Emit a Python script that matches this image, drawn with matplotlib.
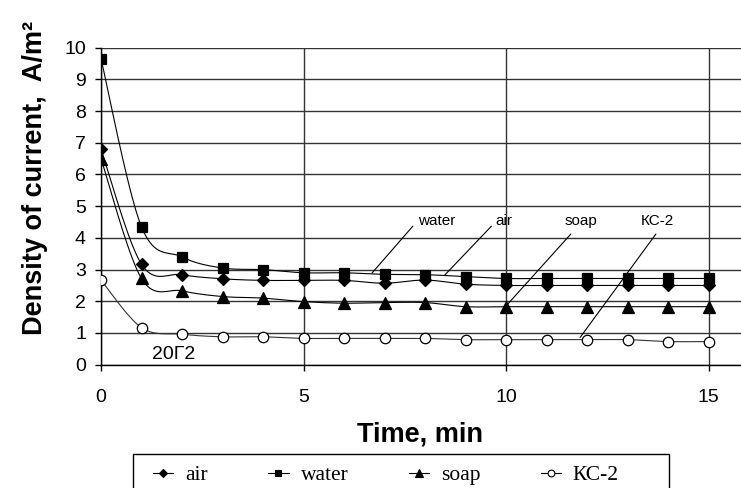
import numpy as np
import matplotlib
matplotlib.use("Agg")
import matplotlib.pyplot as plt
from matplotlib.lines import Line2D
from matplotlib.patches import Rectangle

# ---- data ----
time_min = [0, 1, 2, 3, 4, 5, 6, 7, 8, 9, 10, 11, 12, 13, 14, 15]
air = [6.8, 3.17, 2.84, 2.71, 2.66, 2.66, 2.66, 2.57, 2.67, 2.54, 2.5, 2.5, 2.5, 2.5, 2.5, 2.5]
water = [9.65, 4.35, 3.4, 3.05, 3.0, 2.9, 2.9, 2.85, 2.84, 2.78, 2.72, 2.72, 2.72, 2.72, 2.72, 2.72]
soap = [6.5, 2.72, 2.33, 2.15, 2.1, 1.99, 1.94, 1.96, 1.96, 1.83, 1.83, 1.83, 1.83, 1.83, 1.83, 1.83]
ks2 = [2.67, 1.17, 0.96, 0.88, 0.88, 0.83, 0.83, 0.83, 0.83, 0.79, 0.79, 0.79, 0.79, 0.79, 0.73, 0.73]
series_names = ["air", "water", "soap", "КС-2"]
x_ticks = [0, 5, 10, 15]
y_ticks = list(range(0, 11))

SANS = ["Liberation Sans", "DejaVu Sans"]
SERIF = ["Liberation Serif", "DejaVu Serif"]


def smooth(xs, ys, n=20):
    """Excel-like smoothed line (Catmull-Rom Bezier) through the points."""
    P = np.column_stack([xs, ys]).astype(float)
    m = len(P)
    out = [P[0]]
    t = np.linspace(0, 1, n)[1:, None]
    for i in range(m - 1):
        p0 = P[i - 1] if i > 0 else P[i]
        p1, p2 = P[i], P[i + 1]
        p3 = P[i + 2] if i + 2 < m else P[i + 1]
        c1 = p1 + (p2 - p0) / 6.0
        c2 = p2 - (p3 - p1) / 6.0
        seg = ((1 - t) ** 3) * p1 + 3 * ((1 - t) ** 2) * t * c1 + 3 * (1 - t) * t ** 2 * c2 + t ** 3 * p2
        out.extend(seg)
    out = np.array(out)
    return out[:, 0], out[:, 1]


W, H = 741, 488
fig = plt.figure(figsize=(W / 100, H / 100), dpi=100)
ax = fig.add_axes([101 / W, 1 - 364.7 / H, (W - 101) / W, 317 / H])
ax.set_xlim(0, (W - 101) / 40.5)
ax.set_ylim(0, 10)

styles = [
    (air, "D", 6.3, "black", "black"),
    (water, "s", 7.5, "black", "black"),
    (soap, "^", 8.0, "black", "black"),
    (ks2, "o", 7.5, "white", "#333333"),
]
handles = []
for (vals, mk, ms, fc, lc), name in zip(styles, series_names):
    sx, sy = smooth(time_min, vals)
    ax.plot(sx, sy, color=lc, lw=0.8, zorder=3)
    ax.plot(time_min, vals, linestyle="none", marker=mk, ms=ms,
            mfc=fc, mec="black", mew=0.9, zorder=4)
    handles.append(Line2D([], [], color="black", lw=0.8, marker=mk, ms=ms,
                          mfc=fc, mec="black", mew=0.8))

# grid and axes styling
ax.set_xticks(x_ticks)
ax.set_yticks(y_ticks)
ax.grid(True, color="#333333", lw=1.0, zorder=1)
for s in ["top", "right"]:
    ax.spines[s].set_visible(False)
for s in ["left", "bottom"]:
    ax.spines[s].set_color("black")
    ax.spines[s].set_linewidth(1.0)
ax.tick_params(axis="y", direction="out", length=6 * 0.72, width=1.0, pad=6.5,
               labelsize=14)
ax.tick_params(axis="x", direction="out", length=6 * 0.72, width=1.0, pad=13,
               labelsize=14)
for lbl in ax.get_xticklabels() + ax.get_yticklabels():
    lbl.set_family(SANS)

# leader-line annotations
annots = [
    ("water", 8.29, 4.41, (7.70, 4.37), (6.69, 2.89)),
    ("air", 9.95, 4.41, (9.64, 4.37), (8.49, 2.83)),
    ("soap", 11.85, 4.41, (11.60, 4.12), (10.02, 1.88)),
    ("КС-2", 13.73, 4.41, (13.70, 4.12), (11.83, 0.86)),
]
for txt, tx, ty, p0, p1 in annots:
    ax.text(tx, ty, txt, ha="center", va="baseline", fontsize=11,
            family=SANS, zorder=5)
    ax.annotate("", xy=p1, xytext=p0,
                arrowprops=dict(arrowstyle="-", color="black", lw=0.8,
                                shrinkA=0, shrinkB=0), zorder=5)
ax.text(1.80, 0.17, "20Г2", ha="center", va="baseline", fontsize=14,
        family=SANS, zorder=5)

# axis titles
fig.text(35 / W, 1 - 178 / H, "Density of current,  A/m²", rotation=90,
         ha="center", va="center", fontsize=19.5, fontweight="bold", family=SANS)
fig.text(420 / W, 1 - 435 / H, "Time, min", ha="center", va="center",
         fontsize=19.5, fontweight="bold", family=SANS)

# legend (frame drawn separately so it matches the reference box)
fig.patches.append(Rectangle((133 / W, 1 - 500 / H), (669 - 133) / W, 46 / H,
                             transform=fig.transFigure, fill=False,
                             edgecolor="black", lw=1.0))
leg = fig.legend(handles, series_names, loc="upper left",
                 bbox_to_anchor=(153 / W, 1 - 465 / H),
                 ncol=4, frameon=False,
                 prop={"family": SERIF, "size": 15.5},
                 handlelength=0.95, handletextpad=0.55, markerscale=0.65,
                 columnspacing=2.8, borderpad=0, borderaxespad=0)

fig.savefig("out.png", dpi=100)
